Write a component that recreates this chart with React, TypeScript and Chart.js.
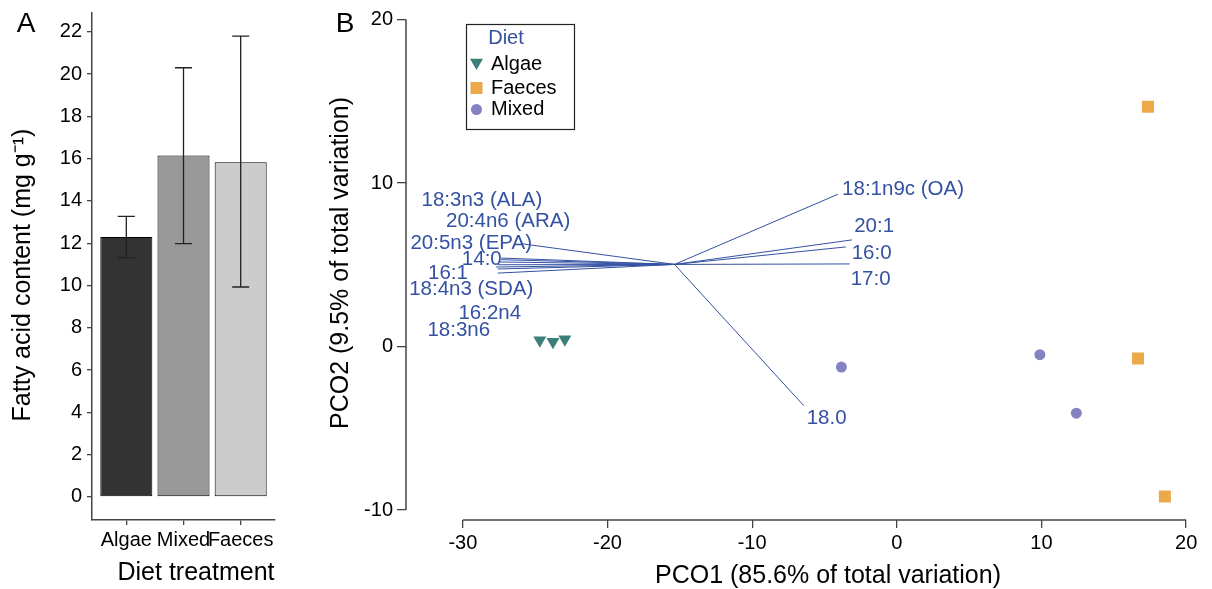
import React, { useEffect, useRef } from "react";
import { Chart, registerables } from "chart.js";

Chart.register(...registerables);

const FONT = "'Liberation Sans', Arial, Helvetica, sans-serif";

// ---------- Panel A data ----------
const dietCategories = ["Algae", "Mixed", "Faeces"];
const fattyAcidMeans = [12.3, 16.15, 15.83];
const fattyAcidLower = [11.32, 11.98, 9.93];
const fattyAcidUpper = [13.27, 20.3, 21.8];
const yTicksA = [0, 2, 4, 6, 8, 10, 12, 14, 16, 18, 20, 22];

// ---------- Panel B data ----------
const algaeX = [-24.68, -23.77, -22.95];
const algaeY = [0.39, 0.29, 0.45];
const faecesX = [17.36, 16.67, 18.53];
const faecesY = [14.67, -0.73, -9.17];
const mixedX = [-3.83, 9.89, 12.41];
const mixedY = [-1.26, -0.5, -4.08];

const vectorOrigin = [-15.37, 5.02];
const vectorNames = [
  "18:3n3 (ALA)",
  "20:4n6 (ARA)",
  "20:5n3 (EPA)",
  "14:0",
  "16:1",
  "18:4n3 (SDA)",
  "16:2n4",
  "18:3n6",
  "18:1n9c (OA)",
  "20:1",
  "16:0",
  "17:0",
  "18.0",
];
const vectorEndX = [-27.35, -27.35, -25.9, -27.47, -27.59, -27.7, -27.59, -27.59, -4.07, -3.1, -3.52, -3.26, -6.43];
const vectorEndY = [5.41, 5.31, 6.28, 5.17, 5.0, 4.86, 4.74, 4.49, 9.31, 6.52, 6.09, 5.05, -3.62];
const vectorLabelX = [-28.68, -26.87, -29.42, -28.69, -31.03, -29.42, -28.14, -30.28, 0.43, -1.57, -1.74, -1.81, -4.85];
const vectorLabelY = [8.94, 7.65, 6.29, 5.35, 4.49, 3.47, 2.0, 0.98, 9.62, 7.33, 5.71, 4.1, -4.37];

const xTicksB = [-30, -20, -10, 0, 10, 20];
const yTicksB = [-10, 0, 10, 20];
const legendEntries = ["Algae", "Faeces", "Mixed"];

// ---------- styles ----------
const barColors = ["#333333", "#999999", "#cccccc"];
const BLUE = "#3451a2";
const TEAL = "#3c7e78";
const ORANGE = "#eba94a";
const PURPLE = "#8582c2";
const AXIS = "#444444";

function drawText(ctx: CanvasRenderingContext2D, text: string, x: number, y: number, size: number, color: string, rotate = 0, align: CanvasTextAlign = "center") {
  ctx.save();
  ctx.translate(x, y);
  if (rotate) ctx.rotate(rotate);
  ctx.font = `${size}px ${FONT}`;
  ctx.fillStyle = color;
  ctx.textAlign = align;
  ctx.textBaseline = "middle";
  ctx.fillText(text, 0, 0);
  ctx.restore();
}

function drawMarker(ctx: CanvasRenderingContext2D, kind: string, x: number, y: number, color: string) {
  ctx.save();
  ctx.fillStyle = color;
  ctx.beginPath();
  if (kind === "triangle") {
    const r = 7.5;
    ctx.moveTo(x, y + r);
    ctx.lineTo(x - r * 0.866, y - r / 2);
    ctx.lineTo(x + r * 0.866, y - r / 2);
    ctx.closePath();
  } else if (kind === "rect") {
    ctx.rect(x - 6, y - 6, 12, 12);
  } else {
    ctx.arc(x, y, 5.5, 0, Math.PI * 2);
  }
  ctx.fill();
  ctx.restore();
}

function PanelA() {
  const ref = useRef<HTMLCanvasElement>(null);
  useEffect(() => {
    const canvas = ref.current!;
    const errorBars = {
      id: "errorBars",
      afterDatasetsDraw(chart: any) {
        const ctx = chart.ctx;
        const y = chart.scales.y;
        const meta = chart.getDatasetMeta(0);
        ctx.save();
        ctx.strokeStyle = "#222";
        ctx.lineWidth = 1.3;
        meta.data.forEach((el: any, i: number) => {
          const x = el.x;
          const yl = y.getPixelForValue(fattyAcidLower[i]);
          const yh = y.getPixelForValue(fattyAcidUpper[i]);
          ctx.beginPath();
          ctx.moveTo(x, yl);
          ctx.lineTo(x, yh);
          ctx.moveTo(x - 8.5, yl);
          ctx.lineTo(x + 8.5, yl);
          ctx.moveTo(x - 8.5, yh);
          ctx.lineTo(x + 8.5, yh);
          ctx.stroke();
        });
        ctx.restore();
      },
      afterDraw(chart: any) {
        const ctx = chart.ctx;
        drawText(ctx, "A", 26, 24, 28, "#000");
        drawText(ctx, "Fatty acid content (mg g⁻¹)", 23, 275, 25, "#000", -Math.PI / 2);
        drawText(ctx, "Diet treatment", 196, 573, 25, "#000");
      },
    };
    const chart = new Chart(canvas, {
      type: "bar",
      data: {
        datasets: [
          {
            data: dietCategories.map((c, i) => ({ x: i + 1, y: fattyAcidMeans[i] })) as any,
            backgroundColor: barColors,
            borderColor: "#000",
            borderWidth: 1,
            borderSkipped: false,
            barPercentage: 0.91,
            categoryPercentage: 1,
          },
        ],
      },
      options: {
        animation: false,
        responsive: false,
        devicePixelRatio: 1,
        layout: { padding: { top: 13, right: 25, left: 0, bottom: 0 } },
        plugins: { legend: { display: false }, tooltip: { enabled: false } },
        scales: {
          x: {
            type: "linear",
            min: 0.4,
            max: 3.6,
            offset: false,
            afterBuildTicks: (s: any) => {
              s.ticks = dietCategories.map((c, i) => ({ value: i + 1 }));
            },
            afterFit: (s: any) => {
              s.height = 69;
              s.paddingLeft = 0;
              s.paddingRight = 0;
            },
            ticks: {
              callback: (v: any) => dietCategories[Math.round(v) - 1],
              font: { size: 20, family: FONT },
              color: "#000",
              padding: 3,
              maxRotation: 0,
              autoSkip: false,
            },
            grid: { display: true, offset: false, drawOnChartArea: false, drawTicks: true, tickLength: 5, color: AXIS, lineWidth: 1.3 },
            border: { display: true, color: AXIS, width: 1.5 },
          },
          y: {
            type: "linear",
            min: -1.09,
            max: 22.89,
            afterBuildTicks: (s: any) => {
              s.ticks = yTicksA.map((v) => ({ value: v }));
            },
            afterFit: (s: any) => {
              s.width = 92;
              s.paddingTop = 0;
              s.paddingBottom = 0;
            },
            ticks: { font: { size: 20, family: FONT }, color: "#000", padding: 5, autoSkip: false },
            grid: { display: true, drawOnChartArea: false, drawTicks: true, tickLength: 5, color: AXIS, lineWidth: 1.3 },
            border: { display: true, color: AXIS, width: 1.5 },
          },
        },
      },
      plugins: [errorBars],
    } as any);
    return () => chart.destroy();
  }, []);
  return <canvas ref={ref} width={300} height={589} style={{ position: "absolute", left: 0, top: 0, width: 300, height: 589 }} />;
}

function PanelB() {
  const ref = useRef<HTMLCanvasElement>(null);
  useEffect(() => {
    const canvas = ref.current!;
    const extras = {
      id: "extras",
      beforeDatasetsDraw(chart: any) {
        const ctx = chart.ctx;
        const xs = chart.scales.x;
        const ys = chart.scales.y;
        const area = chart.chartArea;
        ctx.save();
        ctx.strokeStyle = AXIS;
        ctx.lineWidth = 1.5;
        ctx.beginPath();
        ctx.moveTo(xs.getPixelForValue(xTicksB[0]), area.bottom);
        ctx.lineTo(xs.getPixelForValue(xTicksB[xTicksB.length - 1]), area.bottom);
        ctx.moveTo(area.left, ys.getPixelForValue(yTicksB[0]));
        ctx.lineTo(area.left, ys.getPixelForValue(yTicksB[yTicksB.length - 1]));
        ctx.stroke();
        ctx.restore();
      },
      afterDatasetsDraw(chart: any) {
        const ctx = chart.ctx;
        const xs = chart.scales.x;
        const ys = chart.scales.y;
        vectorNames.forEach((name, i) => {
          drawText(ctx, name, xs.getPixelForValue(vectorLabelX[i]), ys.getPixelForValue(vectorLabelY[i]), 20.5, BLUE);
        });
        // legend
        ctx.save();
        ctx.strokeStyle = "#222";
        ctx.lineWidth = 1.2;
        ctx.strokeRect(166.5, 24.5, 108, 105);
        ctx.restore();
        drawText(ctx, "Diet", 206, 38, 20, BLUE);
        const kinds = ["triangle", "rect", "circle"];
        const cols = [TEAL, ORANGE, PURPLE];
        const ys2 = [64, 88, 109.5];
        legendEntries.forEach((e, i) => {
          drawMarker(ctx, kinds[i], 176.5, ys2[i] + (i === 0 ? -1.5 : 0), cols[i]);
          drawText(ctx, e, 191, ys2[i], 20, "#000", 0, "left");
        });
      },
      afterDraw(chart: any) {
        const ctx = chart.ctx;
        drawText(ctx, "B", 45, 24, 28, "#000");
        drawText(ctx, "PCO2 (9.5% of total variation)", 41, 263, 25, "#000", -Math.PI / 2);
        drawText(ctx, "PCO1 (85.6% of total variation)", 528, 576, 25, "#000");
      },
    };
    const vectorSets = vectorNames.map((n, i) => ({
      label: n,
      data: [
        { x: vectorOrigin[0], y: vectorOrigin[1] },
        { x: vectorEndX[i], y: vectorEndY[i] },
      ],
      showLine: true,
      borderColor: BLUE,
      borderWidth: 1,
      pointRadius: 0,
      fill: false,
    }));
    const chart = new Chart(canvas, {
      type: "scatter",
      data: {
        datasets: [
          ...vectorSets,
          {
            label: "Algae",
            data: algaeX.map((x, i) => ({ x, y: algaeY[i] })),
            pointStyle: "triangle",
            rotation: 180,
            pointRadius: 7.5,
            backgroundColor: TEAL,
            borderWidth: 0,
          },
          {
            label: "Faeces",
            data: faecesX.map((x, i) => ({ x, y: faecesY[i] })),
            pointStyle: "rect",
            pointRadius: 8.5,
            backgroundColor: ORANGE,
            borderWidth: 0,
          },
          {
            label: "Mixed",
            data: mixedX.map((x, i) => ({ x, y: mixedY[i] })),
            pointStyle: "circle",
            pointRadius: 5.5,
            backgroundColor: PURPLE,
            borderWidth: 0,
          },
        ],
      },
      options: {
        animation: false,
        responsive: false,
        devicePixelRatio: 1,
        layout: { padding: { top: 10, right: 7, left: 0, bottom: 0 } },
        plugins: { legend: { display: false }, tooltip: { enabled: false } },
        scales: {
          x: {
            type: "linear",
            min: -33.93,
            max: 21.2,
            afterBuildTicks: (s: any) => {
              s.ticks = xTicksB.map((v) => ({ value: v }));
            },
            afterFit: (s: any) => {
              s.height = 69;
              s.paddingLeft = 0;
              s.paddingRight = 0;
            },
            ticks: { font: { size: 20, family: FONT }, color: "#000", padding: 3, maxRotation: 0, autoSkip: false },
            grid: { display: true, drawOnChartArea: false, drawTicks: true, tickLength: 8, color: AXIS, lineWidth: 1.3 },
            border: { display: false },
          },
          y: {
            type: "linear",
            min: -10.61,
            max: 20.58,
            afterBuildTicks: (s: any) => {
              s.ticks = yTicksB.map((v) => ({ value: v }));
            },
            afterFit: (s: any) => {
              s.width = 106;
              s.paddingTop = 0;
              s.paddingBottom = 0;
            },
            ticks: { font: { size: 20, family: FONT }, color: "#000", padding: 4, autoSkip: false },
            grid: { display: true, drawOnChartArea: false, drawTicks: true, tickLength: 9, color: AXIS, lineWidth: 1.3 },
            border: { display: false },
          },
        },
      },
      plugins: [extras],
    } as any);
    return () => chart.destroy();
  }, []);
  return <canvas ref={ref} width={912} height={589} style={{ position: "absolute", left: 300, top: 0, width: 912, height: 589 }} />;
}

export default function App() {
  return (
    <div style={{ position: "absolute", left: 0, top: 0, width: 1212, height: 589, background: "#fff", overflow: "hidden" }}>
      <PanelA />
      <PanelB />
    </div>
  );
}
